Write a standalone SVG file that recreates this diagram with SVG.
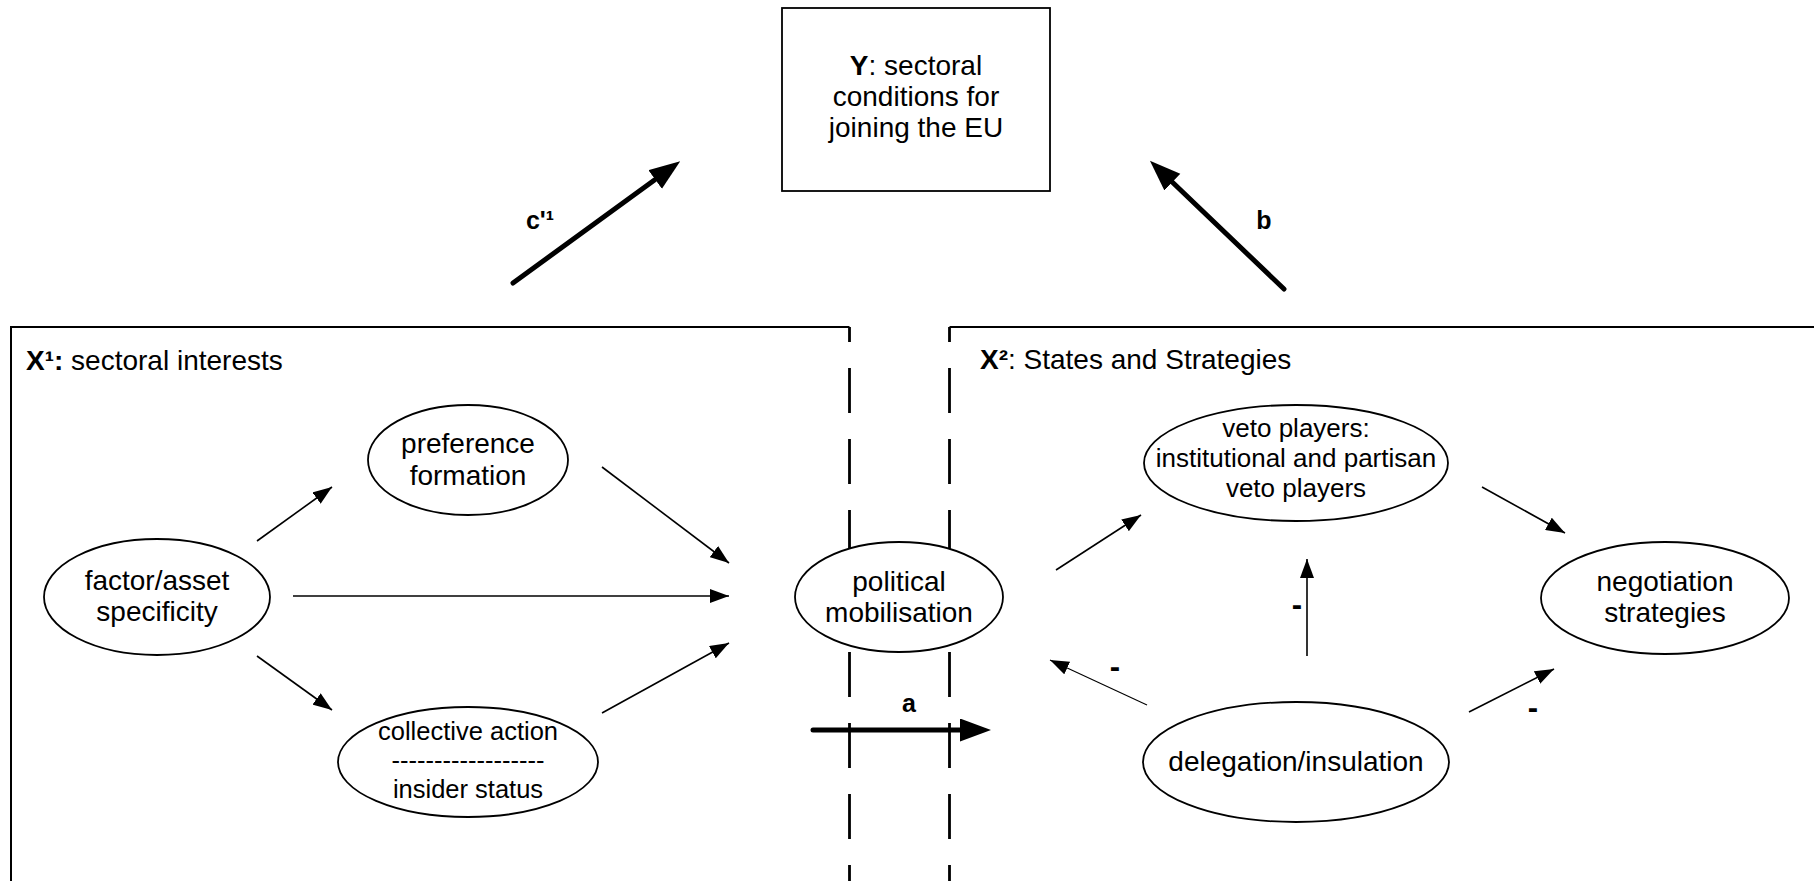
<svg xmlns="http://www.w3.org/2000/svg" width="1814" height="881" viewBox="0 0 1814 881">
<style>
text{font-family:"Liberation Sans",Arial,Helvetica,sans-serif;fill:#000}
.t{font-size:28px;text-anchor:middle}
.t26{font-size:26px;text-anchor:middle}
.t25{font-size:25.5px;text-anchor:middle}
.ttl{font-size:28px}
.lbl{font-size:25px;font-weight:bold;text-anchor:middle}
.neg{font-size:31px;font-weight:bold;text-anchor:middle}
.b{font-weight:bold}
.node{fill:#fff;stroke:#000;stroke-width:1.8}
.frame{fill:none;stroke:#000;stroke-width:2}
.dash{fill:none;stroke:#000;stroke-width:2.8;stroke-dasharray:45 26;stroke-dashoffset:30}
.thin{fill:none;stroke:#000;stroke-width:1.6;marker-end:url(#ah)}
.hair{fill:none;stroke:#000;stroke-width:1.1;marker-end:url(#ah)}
.thick{fill:none;stroke:#000;stroke-width:5;stroke-linecap:round;marker-end:url(#ahb)}
</style>
<defs>
<marker id="ah" markerUnits="userSpaceOnUse" markerWidth="20" markerHeight="14" refX="19" refY="7" orient="auto"><path d="M0,0 L19,7 L0,14 z" fill="#000"/></marker>
<marker id="ahb" markerUnits="userSpaceOnUse" markerWidth="32" markerHeight="24" refX="6" refY="11.5" orient="auto"><path d="M0,0 L31,11.5 L0,23 z" fill="#000"/></marker>
</defs>

<g id="frames">
<path class="frame" d="M11,881 V327 H849.5"/>
<path class="frame" d="M949.5,327 H1814"/>
<path class="dash" d="M849.5,327 V881"/>
<path class="dash" d="M949.5,327 V881"/>
<text class="ttl" x="26" y="370"><tspan class="b">X¹:</tspan> sectoral interests</text>
<text class="ttl" x="980" y="369"><tspan class="b">X²</tspan>: States and Strategies</text>
</g>

<g id="connectors">
<line class="thick" x1="513" y1="283" x2="660" y2="176"/>
<line class="thick" x1="1284" y1="289" x2="1168" y2="178"/>
<line class="thick" x1="813" y1="730" x2="966" y2="730"/>
<line class="thin" x1="257" y1="541" x2="332" y2="487"/>
<line class="thin" x1="293" y1="596" x2="729" y2="596"/>
<line class="thin" x1="257" y1="656" x2="332" y2="710"/>
<line class="thin" x1="602" y1="467" x2="729" y2="563"/>
<line class="thin" x1="602" y1="713" x2="729" y2="643"/>
<line class="thin" x1="1056" y1="570" x2="1141" y2="515"/>
<line class="thin" x1="1482" y1="487" x2="1565" y2="533"/>
<line class="thin" x1="1307" y1="656" x2="1307" y2="559"/>
<line class="hair" x1="1147" y1="705" x2="1050" y2="660"/>
<line class="thin" x1="1469" y1="712" x2="1554" y2="669"/>
<text class="lbl" x="540" y="229">c'¹</text>
<text class="lbl" x="1264" y="229">b</text>
<text class="lbl" x="909" y="712">a</text>
<text class="neg" x="1297" y="615">-</text>
<text class="neg" x="1115" y="677">-</text>
<text class="neg" x="1533" y="718">-</text>
</g>

<g id="node-y">
<rect class="node" x="782" y="8" width="268" height="183"/>
<text class="t" x="916" y="75"><tspan class="b">Y</tspan>: sectoral</text>
<text class="t" x="916" y="106">conditions for</text>
<text class="t" x="916" y="137">joining the EU</text>
</g>

<g id="node-factor">
<ellipse class="node" cx="157" cy="597" rx="113" ry="58"/>
<text class="t" x="157" y="590">factor/asset</text>
<text class="t" x="157" y="621">specificity</text>
</g>

<g id="node-preference">
<ellipse class="node" cx="468" cy="460" rx="100" ry="55"/>
<text class="t" x="468" y="453">preference</text>
<text class="t" x="468" y="485">formation</text>
</g>

<g id="node-collective">
<ellipse class="node" cx="468" cy="762" rx="130" ry="55"/>
<text class="t25" x="468" y="740">collective action</text>
<text class="t25" x="468" y="769">------------------</text>
<text class="t25" x="468" y="798">insider status</text>
</g>

<g id="node-political">
<ellipse class="node" cx="899" cy="597" rx="104" ry="55"/>
<text class="t" x="899" y="591">political</text>
<text class="t" x="899" y="622">mobilisation</text>
</g>

<g id="node-veto">
<ellipse class="node" cx="1296" cy="463" rx="152" ry="58"/>
<text class="t26" x="1296" y="437">veto players:</text>
<text class="t26" x="1296" y="467">institutional and partisan</text>
<text class="t26" x="1296" y="497">veto players</text>
</g>

<g id="node-negotiation">
<ellipse class="node" cx="1665" cy="598" rx="124" ry="56"/>
<text class="t" x="1665" y="591">negotiation</text>
<text class="t" x="1665" y="622">strategies</text>
</g>

<g id="node-delegation">
<ellipse class="node" cx="1296" cy="762" rx="153" ry="60"/>
<text class="t" x="1296" y="771">delegation/insulation</text>
</g>
</svg>
